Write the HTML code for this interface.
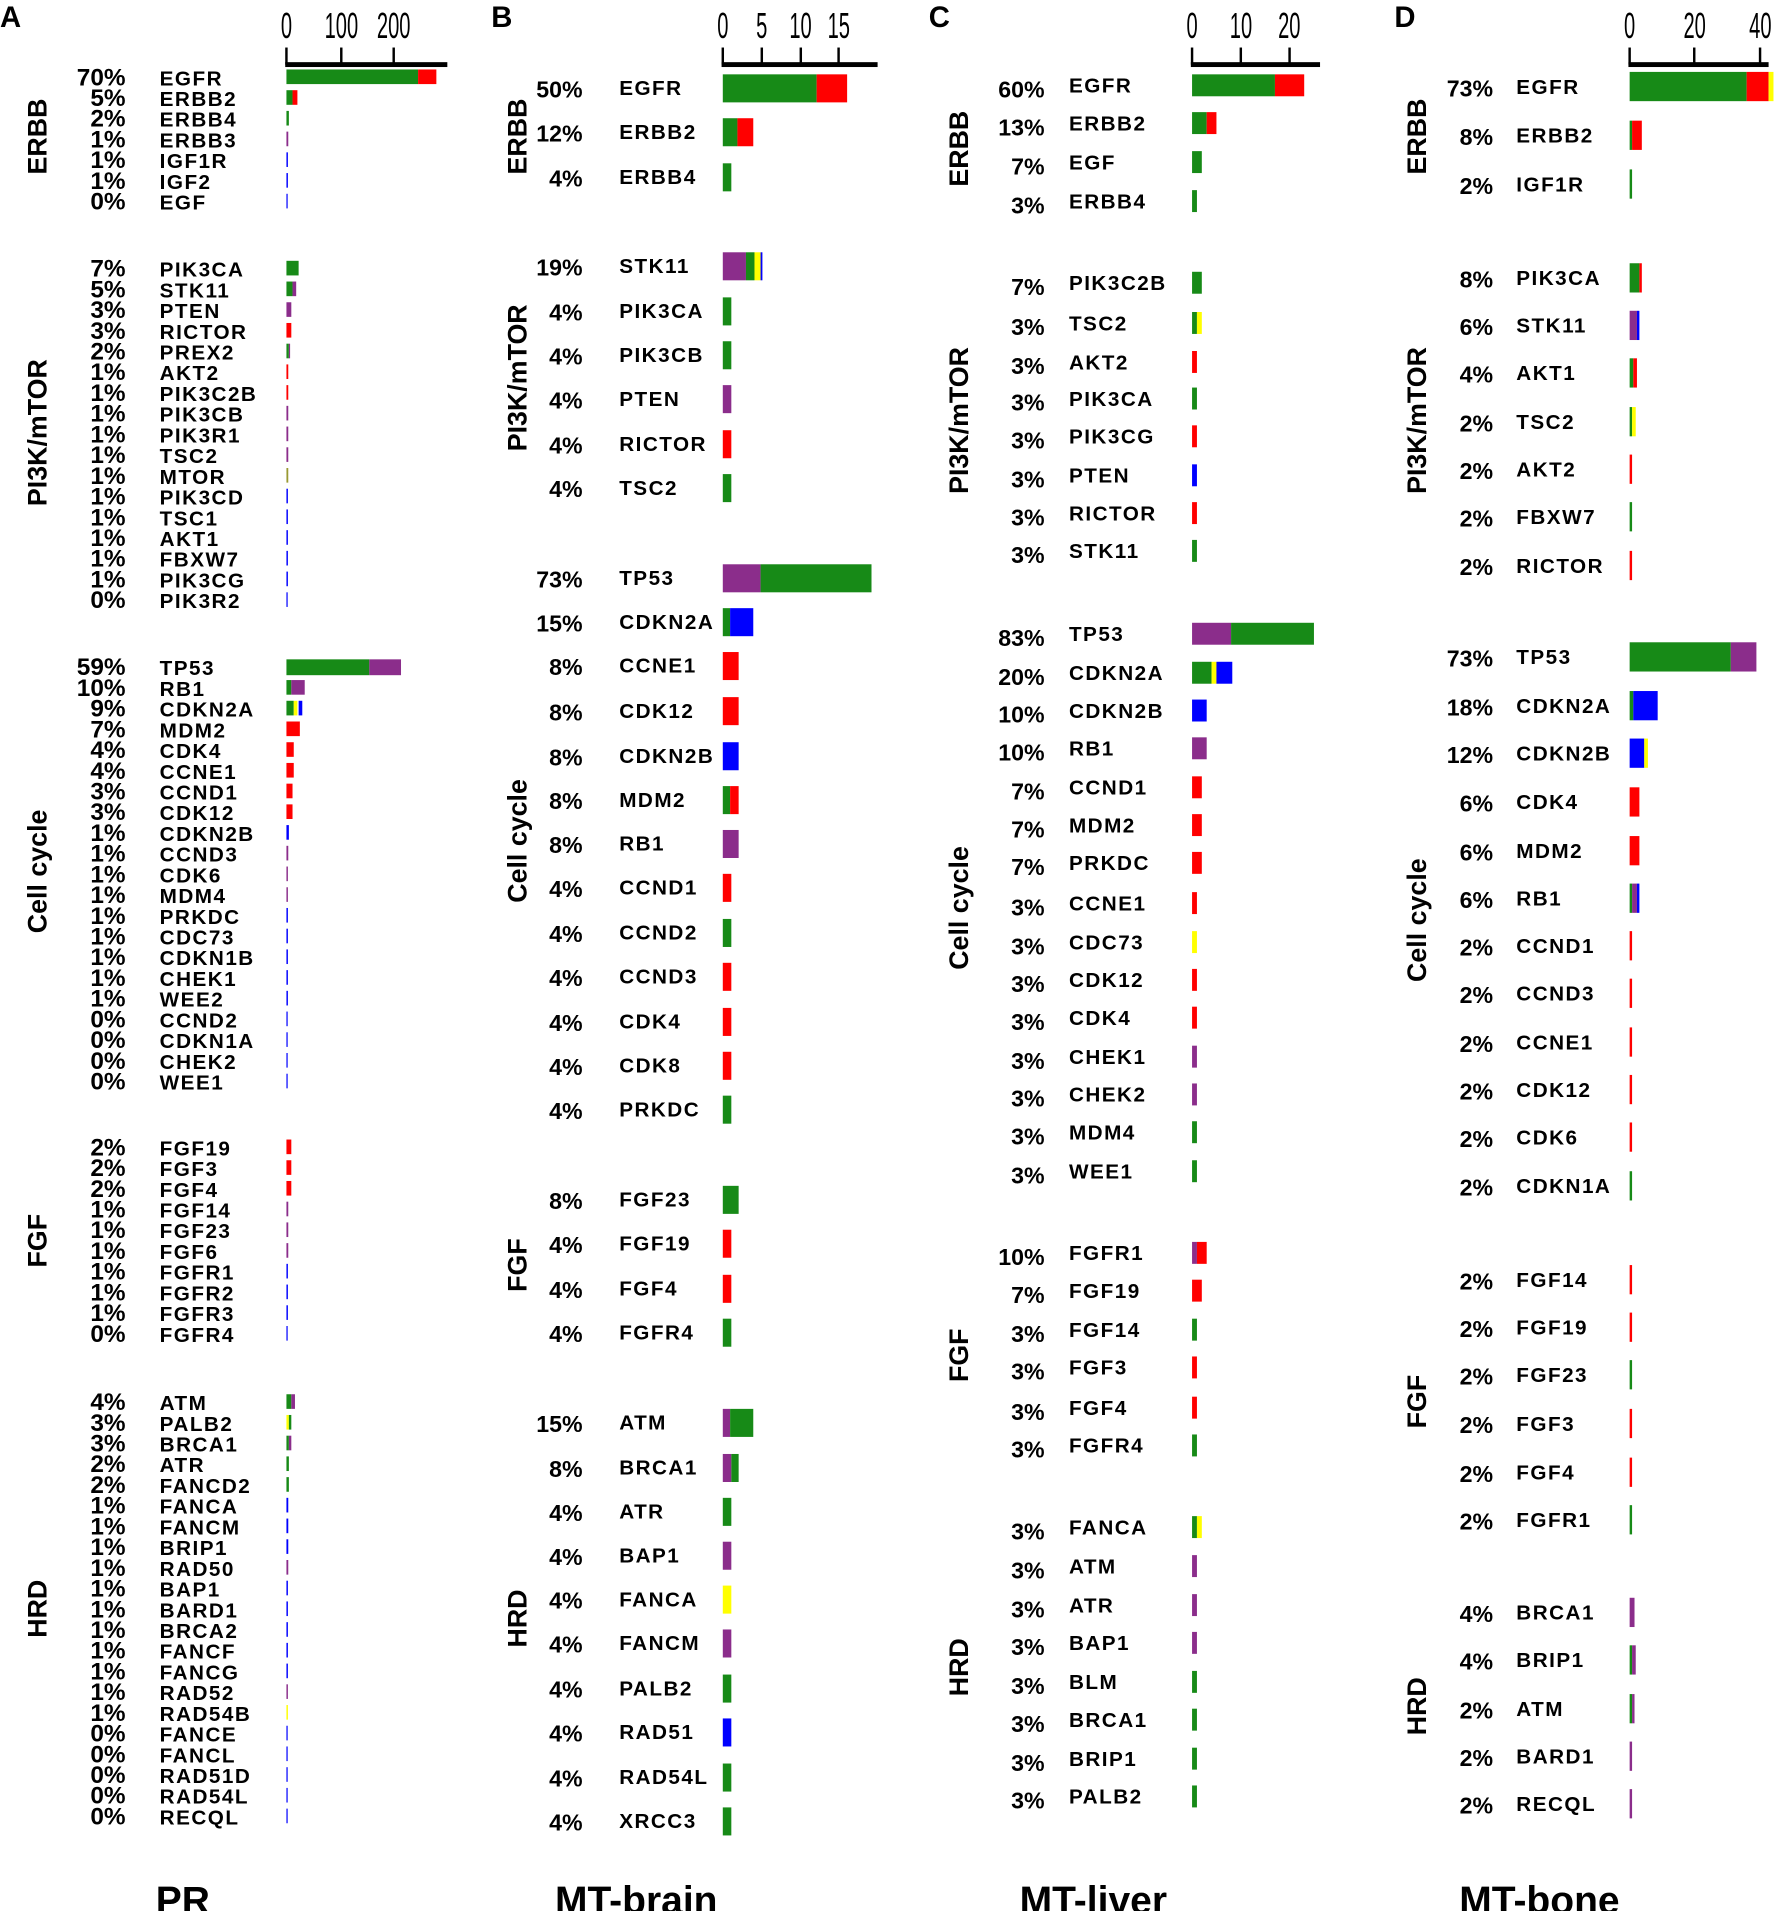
<!DOCTYPE html>
<html><head><meta charset="utf-8"><style>
html,body{margin:0;padding:0;background:#fff}
svg{display:block}
text{font-family:"Liberation Sans",Arial,sans-serif;font-weight:bold;fill:#000}
.g{font-size:17px;letter-spacing:1.2px}
.pa{font-size:20px;text-anchor:end}
.p{font-size:19px;text-anchor:end}
.t{font-family:"Liberation Sans Narrow","Liberation Sans",sans-serif;font-weight:normal;font-size:30px;text-anchor:middle}
.L{font-size:22px;text-anchor:middle}
.H{font-size:24px}
.B{font-size:32px;text-anchor:middle}
.G{fill:#178a17}.R{fill:#ff0000}.P{fill:#8b2d8b}.U{fill:#0000ff}.Y{fill:#ffff00}
</style></head><body>
<svg width="1782" height="1911" viewBox="0 0 1462 1568" preserveAspectRatio="none" xmlns="http://www.w3.org/2000/svg">
<rect width="1462" height="1568" fill="#fff"/>
<!-- Panel letters -->
<text class="H" x="0" y="22">A</text>
<text class="H" x="403" y="22">B</text>
<text class="H" x="762" y="22">C</text>
<text class="H" x="1144" y="22">D</text>

<!-- ============ PANEL A ============ -->
<g transform="translate(235,31) scale(0.55,1)"><text class="t" x="0" y="0">0</text><text class="t" x="82" y="0">100</text><text class="t" x="160" y="0">200</text></g>
<rect x="234" y="51" width="133" height="4"/>
<rect x="234" y="39" width="2" height="14"/><rect x="279" y="39" width="2" height="14"/><rect x="322" y="39" width="2" height="14"/>
<g transform="translate(38,112) rotate(-90)"><text class="L" x="0" y="0">ERBB</text></g>
<g transform="translate(38,355) rotate(-90)"><text class="L" x="0" y="0">PI3K/mTOR</text></g>
<g transform="translate(38,715) rotate(-90)"><text class="L" x="0" y="0">Cell cycle</text></g>
<g transform="translate(38,1018) rotate(-90)"><text class="L" x="0" y="0">FGF</text></g>
<g transform="translate(38,1320) rotate(-90)"><text class="L" x="0" y="0">HRD</text></g>

<text class="pa" x="103" y="70">70%</text><text class="g" x="131" y="70">EGFR</text>
<rect class="G" x="235" y="57" width="108" height="12"/><rect class="R" x="343" y="57" width="15" height="12"/>
<text class="pa" x="103" y="87">5%</text><text class="g" x="131" y="87">ERBB2</text>
<rect class="G" x="235" y="74" width="5" height="12"/><rect class="R" x="240" y="74" width="4" height="12"/>
<text class="pa" x="103" y="104">2%</text><text class="g" x="131" y="104">ERBB4</text><rect class="G" x="235" y="91" width="2" height="12"/>
<text class="pa" x="103" y="121">1%</text><text class="g" x="131" y="121">ERBB3</text><rect class="P" x="235" y="108" width="1.5" height="12"/>
<text class="pa" x="103" y="138">1%</text><text class="g" x="131" y="138">IGF1R</text><rect class="U" x="235" y="125" width="1.2" height="12"/>
<text class="pa" x="103" y="155">1%</text><text class="g" x="131" y="155">IGF2</text><rect class="U" x="235" y="142" width="1.2" height="12"/>
<text class="pa" x="103" y="172">0%</text><text class="g" x="131" y="172">EGF</text><rect class="U" x="235" y="159" width="1" height="12"/>

<text class="pa" x="103" y="227">7%</text><text class="g" x="131" y="227">PIK3CA</text><rect class="G" x="235" y="214" width="10" height="12"/>
<text class="pa" x="103" y="244">5%</text><text class="g" x="131" y="244">STK11</text><rect class="G" x="235" y="231" width="5" height="12"/><rect class="P" x="240" y="231" width="3" height="12"/>
<text class="pa" x="103" y="261">3%</text><text class="g" x="131" y="261">PTEN</text><rect class="P" x="235" y="248" width="4" height="12"/>
<text class="pa" x="103" y="278">3%</text><text class="g" x="131" y="278">RICTOR</text><rect class="R" x="235" y="265" width="4" height="12"/>
<text class="pa" x="103" y="295">2%</text><text class="g" x="131" y="295">PREX2</text><rect class="G" x="235" y="282" width="2" height="12"/><rect class="P" x="237" y="282" width="1" height="12"/>
<text class="pa" x="103" y="312">1%</text><text class="g" x="131" y="312">AKT2</text><rect class="R" x="235" y="299" width="1.5" height="12"/>
<text class="pa" x="103" y="329">1%</text><text class="g" x="131" y="329">PIK3C2B</text><rect class="R" x="235" y="316" width="1.5" height="12"/>
<text class="pa" x="103" y="346">1%</text><text class="g" x="131" y="346">PIK3CB</text><rect class="P" x="235" y="333" width="1.5" height="12"/>
<text class="pa" x="103" y="363">1%</text><text class="g" x="131" y="363">PIK3R1</text><rect class="P" x="235" y="350" width="1.5" height="12"/>
<text class="pa" x="103" y="380">1%</text><text class="g" x="131" y="380">TSC2</text><rect class="P" x="235" y="367" width="1.5" height="12"/>
<text class="pa" x="103" y="397">1%</text><text class="g" x="131" y="397">MTOR</text><rect fill="#999933" x="235" y="384" width="1.5" height="12"/>
<text class="pa" x="103" y="414">1%</text><text class="g" x="131" y="414">PIK3CD</text><rect class="U" x="235" y="401" width="1.2" height="12"/>
<text class="pa" x="103" y="431">1%</text><text class="g" x="131" y="431">TSC1</text><rect class="U" x="235" y="418" width="1.2" height="12"/>
<text class="pa" x="103" y="448">1%</text><text class="g" x="131" y="448">AKT1</text><rect class="U" x="235" y="435" width="1.2" height="12"/>
<text class="pa" x="103" y="465">1%</text><text class="g" x="131" y="465">FBXW7</text><rect class="U" x="235" y="452" width="1.2" height="12"/>
<text class="pa" x="103" y="482">1%</text><text class="g" x="131" y="482">PIK3CG</text><rect class="U" x="235" y="469" width="1.2" height="12"/>
<text class="pa" x="103" y="499">0%</text><text class="g" x="131" y="499">PIK3R2</text><rect class="U" x="235" y="486" width="1" height="12"/>

<text class="pa" x="103" y="554">59%</text><text class="g" x="131" y="554">TP53</text><rect class="G" x="235" y="541" width="68" height="13"/><rect class="P" x="303" y="541" width="26" height="13"/>
<text class="pa" x="103" y="571">10%</text><text class="g" x="131" y="571">RB1</text><rect class="G" x="235" y="558" width="4" height="12"/><rect class="P" x="239" y="558" width="11" height="12"/>
<text class="pa" x="103" y="588">9%</text><text class="g" x="131" y="588">CDKN2A</text><rect class="G" x="235" y="575" width="6" height="12"/><rect class="Y" x="241" y="575" width="3" height="12"/><rect class="U" x="245" y="575" width="3" height="12"/>
<text class="pa" x="103" y="605">7%</text><text class="g" x="131" y="605">MDM2</text><rect class="R" x="235" y="592" width="11" height="12"/>
<text class="pa" x="103" y="622">4%</text><text class="g" x="131" y="622">CDK4</text><rect class="R" x="235" y="609" width="6" height="12"/>
<text class="pa" x="103" y="639">4%</text><text class="g" x="131" y="639">CCNE1</text><rect class="R" x="235" y="626" width="6" height="12"/>
<text class="pa" x="103" y="656">3%</text><text class="g" x="131" y="656">CCND1</text><rect class="R" x="235" y="643" width="5" height="12"/>
<text class="pa" x="103" y="673">3%</text><text class="g" x="131" y="673">CDK12</text><rect class="R" x="235" y="660" width="5" height="12"/>
<text class="pa" x="103" y="690">1%</text><text class="g" x="131" y="690">CDKN2B</text><rect class="U" x="235" y="677" width="2" height="12"/>
<text class="pa" x="103" y="707">1%</text><text class="g" x="131" y="707">CCND3</text><rect class="P" x="235" y="694" width="1.5" height="12"/>
<text class="pa" x="103" y="724">1%</text><text class="g" x="131" y="724">CDK6</text><rect class="P" x="235" y="711" width="1.2" height="12"/>
<text class="pa" x="103" y="741">1%</text><text class="g" x="131" y="741">MDM4</text><rect class="P" x="235" y="728" width="1.2" height="12"/>
<text class="pa" x="103" y="758">1%</text><text class="g" x="131" y="758">PRKDC</text><rect class="U" x="235" y="745" width="1.2" height="12"/>
<text class="pa" x="103" y="775">1%</text><text class="g" x="131" y="775">CDC73</text><rect class="U" x="235" y="762" width="1.2" height="12"/>
<text class="pa" x="103" y="792">1%</text><text class="g" x="131" y="792">CDKN1B</text><rect class="U" x="235" y="779" width="1.2" height="12"/>
<text class="pa" x="103" y="809">1%</text><text class="g" x="131" y="809">CHEK1</text><rect class="U" x="235" y="796" width="1.2" height="12"/>
<text class="pa" x="103" y="826">1%</text><text class="g" x="131" y="826">WEE2</text><rect class="U" x="235" y="813" width="1.2" height="12"/>
<text class="pa" x="103" y="843">0%</text><text class="g" x="131" y="843">CCND2</text><rect class="U" x="235" y="830" width="1" height="12"/>
<text class="pa" x="103" y="860">0%</text><text class="g" x="131" y="860">CDKN1A</text><rect class="U" x="235" y="847" width="1" height="12"/>
<text class="pa" x="103" y="877">0%</text><text class="g" x="131" y="877">CHEK2</text><rect class="U" x="235" y="864" width="1" height="12"/>
<text class="pa" x="103" y="894">0%</text><text class="g" x="131" y="894">WEE1</text><rect class="U" x="235" y="881" width="1" height="12"/>

<text class="pa" x="103" y="948">2%</text><text class="g" x="131" y="948">FGF19</text><rect class="R" x="235" y="935" width="4" height="12"/>
<text class="pa" x="103" y="965">2%</text><text class="g" x="131" y="965">FGF3</text><rect class="R" x="235" y="952" width="4" height="12"/>
<text class="pa" x="103" y="982">2%</text><text class="g" x="131" y="982">FGF4</text><rect class="R" x="235" y="969" width="4" height="12"/>
<text class="pa" x="103" y="999">1%</text><text class="g" x="131" y="999">FGF14</text><rect class="P" x="235" y="986" width="1.5" height="12"/>
<text class="pa" x="103" y="1016">1%</text><text class="g" x="131" y="1016">FGF23</text><rect class="P" x="235" y="1003" width="1.5" height="12"/>
<text class="pa" x="103" y="1033">1%</text><text class="g" x="131" y="1033">FGF6</text><rect class="P" x="235" y="1020" width="1.5" height="12"/>
<text class="pa" x="103" y="1050">1%</text><text class="g" x="131" y="1050">FGFR1</text><rect class="U" x="235" y="1037" width="1.2" height="12"/>
<text class="pa" x="103" y="1067">1%</text><text class="g" x="131" y="1067">FGFR2</text><rect class="U" x="235" y="1054" width="1.2" height="12"/>
<text class="pa" x="103" y="1084">1%</text><text class="g" x="131" y="1084">FGFR3</text><rect class="U" x="235" y="1071" width="1.2" height="12"/>
<text class="pa" x="103" y="1101">0%</text><text class="g" x="131" y="1101">FGFR4</text><rect class="U" x="235" y="1088" width="1" height="12"/>

<text class="pa" x="103" y="1157">4%</text><text class="g" x="131" y="1157">ATM</text><rect class="G" x="235" y="1144" width="4" height="12"/><rect class="P" x="239" y="1144" width="3" height="12"/>
<text class="pa" x="103" y="1174">3%</text><text class="g" x="131" y="1174">PALB2</text><rect class="Y" x="235" y="1161" width="2" height="12"/><rect class="G" x="237" y="1161" width="2" height="12"/>
<text class="pa" x="103" y="1191">3%</text><text class="g" x="131" y="1191">BRCA1</text><rect class="G" x="235" y="1178" width="2" height="12"/><rect class="P" x="237" y="1178" width="2" height="12"/>
<text class="pa" x="103" y="1208">2%</text><text class="g" x="131" y="1208">ATR</text><rect class="G" x="235" y="1195" width="2" height="12"/>
<text class="pa" x="103" y="1225">2%</text><text class="g" x="131" y="1225">FANCD2</text><rect class="G" x="235" y="1212" width="2" height="12"/>
<text class="pa" x="103" y="1242">1%</text><text class="g" x="131" y="1242">FANCA</text><rect class="U" x="235" y="1229" width="1.5" height="12"/>
<text class="pa" x="103" y="1259">1%</text><text class="g" x="131" y="1259">FANCM</text><rect class="U" x="235" y="1246" width="1.5" height="12"/>
<text class="pa" x="103" y="1276">1%</text><text class="g" x="131" y="1276">BRIP1</text><rect class="U" x="235" y="1263" width="1.5" height="12"/>
<text class="pa" x="103" y="1293">1%</text><text class="g" x="131" y="1293">RAD50</text><rect class="P" x="235" y="1280" width="1.5" height="12"/>
<text class="pa" x="103" y="1310">1%</text><text class="g" x="131" y="1310">BAP1</text><rect class="U" x="235" y="1297" width="1.2" height="12"/>
<text class="pa" x="103" y="1327">1%</text><text class="g" x="131" y="1327">BARD1</text><rect class="U" x="235" y="1314" width="1.2" height="12"/>
<text class="pa" x="103" y="1344">1%</text><text class="g" x="131" y="1344">BRCA2</text><rect class="U" x="235" y="1331" width="1.2" height="12"/>
<text class="pa" x="103" y="1361">1%</text><text class="g" x="131" y="1361">FANCF</text><rect class="U" x="235" y="1348" width="1.2" height="12"/>
<text class="pa" x="103" y="1378">1%</text><text class="g" x="131" y="1378">FANCG</text><rect class="U" x="235" y="1365" width="1.2" height="12"/>
<text class="pa" x="103" y="1395">1%</text><text class="g" x="131" y="1395">RAD52</text><rect class="P" x="235" y="1382" width="1.2" height="12"/>
<text class="pa" x="103" y="1412">1%</text><text class="g" x="131" y="1412">RAD54B</text><rect class="Y" x="235" y="1399" width="1.2" height="12"/>
<text class="pa" x="103" y="1429">0%</text><text class="g" x="131" y="1429">FANCE</text><rect class="U" x="235" y="1416" width="1" height="12"/>
<text class="pa" x="103" y="1446">0%</text><text class="g" x="131" y="1446">FANCL</text><rect class="U" x="235" y="1433" width="1" height="12"/>
<text class="pa" x="103" y="1463">0%</text><text class="g" x="131" y="1463">RAD51D</text><rect class="U" x="235" y="1450" width="1" height="12"/>
<text class="pa" x="103" y="1480">0%</text><text class="g" x="131" y="1480">RAD54L</text><rect class="U" x="235" y="1467" width="1" height="12"/>
<text class="pa" x="103" y="1497">0%</text><text class="g" x="131" y="1497">RECQL</text><rect class="U" x="235" y="1484" width="1" height="12"/>
<text class="B" x="150" y="1570">PR</text>

<!-- ============ PANEL B ============ -->
<g transform="translate(593,31) scale(0.55,1)"><text class="t" x="0" y="0">0</text><text class="t" x="58" y="0">5</text><text class="t" x="116" y="0">10</text><text class="t" x="173" y="0">15</text></g>
<rect x="592" y="51" width="128" height="4"/>
<rect x="592" y="39" width="2" height="14"/><rect x="624" y="39" width="2" height="14"/><rect x="656" y="39" width="2" height="14"/><rect x="687" y="39" width="2" height="14"/>
<g transform="translate(432,112) rotate(-90)"><text class="L" x="0" y="0">ERBB</text></g>
<g transform="translate(432,310) rotate(-90)"><text class="L" x="0" y="0">PI3K/mTOR</text></g>
<g transform="translate(432,690) rotate(-90)"><text class="L" x="0" y="0">Cell cycle</text></g>
<g transform="translate(432,1038) rotate(-90)"><text class="L" x="0" y="0">FGF</text></g>
<g transform="translate(432,1328) rotate(-90)"><text class="L" x="0" y="0">HRD</text></g>

<text class="p" x="478" y="80">50%</text><text class="g" x="508" y="78">EGFR</text><rect class="G" x="593" y="61" width="77" height="23"/><rect class="R" x="670" y="61" width="25" height="23"/>
<text class="p" x="478" y="116">12%</text><text class="g" x="508" y="114">ERBB2</text><rect class="G" x="593" y="97" width="12" height="23"/><rect class="R" x="605" y="97" width="13" height="23"/>
<text class="p" x="478" y="153">4%</text><text class="g" x="508" y="151">ERBB4</text><rect class="G" x="593" y="134" width="7" height="23"/>

<text class="p" x="478" y="226">19%</text><text class="g" x="508" y="224">STK11</text><rect class="P" x="593" y="207" width="19" height="23"/><rect class="G" x="612" y="207" width="7" height="23"/><rect class="Y" x="619" y="207" width="5" height="23"/><rect class="U" x="624" y="207" width="1.5" height="23"/>
<text class="p" x="478" y="263">4%</text><text class="g" x="508" y="261">PIK3CA</text><rect class="G" x="593" y="244" width="7" height="23"/>
<text class="p" x="478" y="299">4%</text><text class="g" x="508" y="297">PIK3CB</text><rect class="G" x="593" y="280" width="7" height="23"/>
<text class="p" x="478" y="335">4%</text><text class="g" x="508" y="333">PTEN</text><rect class="P" x="593" y="316" width="7" height="23"/>
<text class="p" x="478" y="372">4%</text><text class="g" x="508" y="370">RICTOR</text><rect class="R" x="593" y="353" width="7" height="23"/>
<text class="p" x="478" y="408">4%</text><text class="g" x="508" y="406">TSC2</text><rect class="G" x="593" y="389" width="7" height="23"/>

<text class="p" x="478" y="482">73%</text><text class="g" x="508" y="480">TP53</text><rect class="P" x="593" y="463" width="31" height="23"/><rect class="G" x="624" y="463" width="91" height="23"/>
<text class="p" x="478" y="518">15%</text><text class="g" x="508" y="516">CDKN2A</text><rect class="G" x="593" y="499" width="6" height="23"/><rect class="U" x="599" y="499" width="19" height="23"/>
<text class="p" x="478" y="554">8%</text><text class="g" x="508" y="552">CCNE1</text><rect class="R" x="593" y="535" width="13" height="23"/>
<text class="p" x="478" y="591">8%</text><text class="g" x="508" y="589">CDK12</text><rect class="R" x="593" y="572" width="13" height="23"/>
<text class="p" x="478" y="628">8%</text><text class="g" x="508" y="626">CDKN2B</text><rect class="U" x="593" y="609" width="13" height="23"/>
<text class="p" x="478" y="664">8%</text><text class="g" x="508" y="662">MDM2</text><rect class="G" x="593" y="645" width="6" height="23"/><rect class="R" x="599" y="645" width="7" height="23"/>
<text class="p" x="478" y="700">8%</text><text class="g" x="508" y="698">RB1</text><rect class="P" x="593" y="681" width="13" height="23"/>
<text class="p" x="478" y="736">4%</text><text class="g" x="508" y="734">CCND1</text><rect class="R" x="593" y="717" width="7" height="23"/>
<text class="p" x="478" y="773">4%</text><text class="g" x="508" y="771">CCND2</text><rect class="G" x="593" y="754" width="7" height="23"/>
<text class="p" x="478" y="809">4%</text><text class="g" x="508" y="807">CCND3</text><rect class="R" x="593" y="790" width="7" height="23"/>
<text class="p" x="478" y="846">4%</text><text class="g" x="508" y="844">CDK4</text><rect class="R" x="593" y="827" width="7" height="23"/>
<text class="p" x="478" y="882">4%</text><text class="g" x="508" y="880">CDK8</text><rect class="R" x="593" y="863" width="7" height="23"/>
<text class="p" x="478" y="918">4%</text><text class="g" x="508" y="916">PRKDC</text><rect class="G" x="593" y="899" width="7" height="23"/>

<text class="p" x="478" y="992">8%</text><text class="g" x="508" y="990">FGF23</text><rect class="G" x="593" y="973" width="13" height="23"/>
<text class="p" x="478" y="1028">4%</text><text class="g" x="508" y="1026">FGF19</text><rect class="R" x="593" y="1009" width="7" height="23"/>
<text class="p" x="478" y="1065">4%</text><text class="g" x="508" y="1063">FGF4</text><rect class="R" x="593" y="1046" width="7" height="23"/>
<text class="p" x="478" y="1101">4%</text><text class="g" x="508" y="1099">FGFR4</text><rect class="G" x="593" y="1082" width="7" height="23"/>

<text class="p" x="478" y="1175">15%</text><text class="g" x="508" y="1173">ATM</text><rect class="P" x="593" y="1156" width="6" height="23"/><rect class="G" x="599" y="1156" width="19" height="23"/>
<text class="p" x="478" y="1212">8%</text><text class="g" x="508" y="1210">BRCA1</text><rect class="P" x="593" y="1193" width="7" height="23"/><rect class="G" x="600" y="1193" width="6" height="23"/>
<text class="p" x="478" y="1248">4%</text><text class="g" x="508" y="1246">ATR</text><rect class="G" x="593" y="1229" width="7" height="23"/>
<text class="p" x="478" y="1284">4%</text><text class="g" x="508" y="1282">BAP1</text><rect class="P" x="593" y="1265" width="7" height="23"/>
<text class="p" x="478" y="1320">4%</text><text class="g" x="508" y="1318">FANCA</text><rect class="Y" x="593" y="1301" width="7" height="23"/>
<text class="p" x="478" y="1356">4%</text><text class="g" x="508" y="1354">FANCM</text><rect class="P" x="593" y="1337" width="7" height="23"/>
<text class="p" x="478" y="1393">4%</text><text class="g" x="508" y="1391">PALB2</text><rect class="G" x="593" y="1374" width="7" height="23"/>
<text class="p" x="478" y="1429">4%</text><text class="g" x="508" y="1427">RAD51</text><rect class="U" x="593" y="1410" width="7" height="23"/>
<text class="p" x="478" y="1466">4%</text><text class="g" x="508" y="1464">RAD54L</text><rect class="G" x="593" y="1447" width="7" height="23"/>
<text class="p" x="478" y="1502">4%</text><text class="g" x="508" y="1500">XRCC3</text><rect class="G" x="593" y="1483" width="7" height="23"/>
<text class="B" x="522" y="1570">MT-brain</text>

<!-- ============ PANEL C ============ -->
<g transform="translate(978,31) scale(0.55,1)"><text class="t" x="0" y="0">0</text><text class="t" x="73" y="0">10</text><text class="t" x="145" y="0">20</text></g>
<rect x="977" y="51" width="106" height="4"/>
<rect x="977" y="39" width="2" height="14"/><rect x="1017" y="39" width="2" height="14"/><rect x="1057" y="39" width="2" height="14"/>
<g transform="translate(794,122) rotate(-90)"><text class="L" x="0" y="0">ERBB</text></g>
<g transform="translate(794,345) rotate(-90)"><text class="L" x="0" y="0">PI3K/mTOR</text></g>
<g transform="translate(794,745) rotate(-90)"><text class="L" x="0" y="0">Cell cycle</text></g>
<g transform="translate(794,1112) rotate(-90)"><text class="L" x="0" y="0">FGF</text></g>
<g transform="translate(794,1368) rotate(-90)"><text class="L" x="0" y="0">HRD</text></g>

<text class="p" x="857" y="80">60%</text><text class="g" x="877" y="76">EGFR</text><rect class="G" x="978" y="61" width="68" height="18"/><rect class="R" x="1046" y="61" width="24" height="18"/>
<text class="p" x="857" y="111">13%</text><text class="g" x="877" y="107">ERBB2</text><rect class="G" x="978" y="92" width="12" height="18"/><rect class="R" x="990" y="92" width="8" height="18"/>
<text class="p" x="857" y="143">7%</text><text class="g" x="877" y="139">EGF</text><rect class="G" x="978" y="124" width="8" height="18"/>
<text class="p" x="857" y="175">3%</text><text class="g" x="877" y="171">ERBB4</text><rect class="G" x="978" y="156" width="4" height="18"/>

<text class="p" x="857" y="242">7%</text><text class="g" x="877" y="238">PIK3C2B</text><rect class="G" x="978" y="223" width="8" height="18"/>
<text class="p" x="857" y="275">3%</text><text class="g" x="877" y="271">TSC2</text><rect class="G" x="978" y="256" width="4" height="18"/><rect class="Y" x="982" y="256" width="4" height="18"/>
<text class="p" x="857" y="307">3%</text><text class="g" x="877" y="303">AKT2</text><rect class="R" x="978" y="288" width="4" height="18"/>
<text class="p" x="857" y="337">3%</text><text class="g" x="877" y="333">PIK3CA</text><rect class="G" x="978" y="318" width="4" height="18"/>
<text class="p" x="857" y="368">3%</text><text class="g" x="877" y="364">PIK3CG</text><rect class="R" x="978" y="349" width="4" height="18"/>
<text class="p" x="857" y="400">3%</text><text class="g" x="877" y="396">PTEN</text><rect class="U" x="978" y="381" width="4" height="18"/>
<text class="p" x="857" y="431">3%</text><text class="g" x="877" y="427">RICTOR</text><rect class="R" x="978" y="412" width="4" height="18"/>
<text class="p" x="857" y="462">3%</text><text class="g" x="877" y="458">STK11</text><rect class="G" x="978" y="443" width="4" height="18"/>

<text class="p" x="857" y="530">83%</text><text class="g" x="877" y="526">TP53</text><rect class="P" x="978" y="511" width="32" height="18"/><rect class="G" x="1010" y="511" width="68" height="18"/>
<text class="p" x="857" y="562">20%</text><text class="g" x="877" y="558">CDKN2A</text><rect class="G" x="978" y="543" width="16" height="18"/><rect class="Y" x="994" y="543" width="4" height="18"/><rect class="U" x="998" y="543" width="13" height="18"/>
<text class="p" x="857" y="593">10%</text><text class="g" x="877" y="589">CDKN2B</text><rect class="U" x="978" y="574" width="12" height="18"/>
<text class="p" x="857" y="624">10%</text><text class="g" x="877" y="620">RB1</text><rect class="P" x="978" y="605" width="12" height="18"/>
<text class="p" x="857" y="656">7%</text><text class="g" x="877" y="652">CCND1</text><rect class="R" x="978" y="637" width="8" height="18"/>
<text class="p" x="857" y="687">7%</text><text class="g" x="877" y="683">MDM2</text><rect class="R" x="978" y="668" width="8" height="18"/>
<text class="p" x="857" y="718">7%</text><text class="g" x="877" y="714">PRKDC</text><rect class="R" x="978" y="699" width="8" height="18"/>
<text class="p" x="857" y="751">3%</text><text class="g" x="877" y="747">CCNE1</text><rect class="R" x="978" y="732" width="4" height="18"/>
<text class="p" x="857" y="783">3%</text><text class="g" x="877" y="779">CDC73</text><rect class="Y" x="978" y="764" width="4" height="18"/>
<text class="p" x="857" y="814">3%</text><text class="g" x="877" y="810">CDK12</text><rect class="R" x="978" y="795" width="4" height="18"/>
<text class="p" x="857" y="845">3%</text><text class="g" x="877" y="841">CDK4</text><rect class="R" x="978" y="826" width="4" height="18"/>
<text class="p" x="857" y="877">3%</text><text class="g" x="877" y="873">CHEK1</text><rect class="P" x="978" y="858" width="4" height="18"/>
<text class="p" x="857" y="908">3%</text><text class="g" x="877" y="904">CHEK2</text><rect class="P" x="978" y="889" width="4" height="18"/>
<text class="p" x="857" y="939">3%</text><text class="g" x="877" y="935">MDM4</text><rect class="G" x="978" y="920" width="4" height="18"/>
<text class="p" x="857" y="971">3%</text><text class="g" x="877" y="967">WEE1</text><rect class="G" x="978" y="952" width="4" height="18"/>

<text class="p" x="857" y="1038">10%</text><text class="g" x="877" y="1034">FGFR1</text><rect class="P" x="978" y="1019" width="4" height="18"/><rect class="R" x="982" y="1019" width="8" height="18"/>
<text class="p" x="857" y="1069">7%</text><text class="g" x="877" y="1065">FGF19</text><rect class="R" x="978" y="1050" width="8" height="18"/>
<text class="p" x="857" y="1101">3%</text><text class="g" x="877" y="1097">FGF14</text><rect class="G" x="978" y="1082" width="4" height="18"/>
<text class="p" x="857" y="1132">3%</text><text class="g" x="877" y="1128">FGF3</text><rect class="R" x="978" y="1113" width="4" height="18"/>
<text class="p" x="857" y="1165">3%</text><text class="g" x="877" y="1161">FGF4</text><rect class="R" x="978" y="1146" width="4" height="18"/>
<text class="p" x="857" y="1196">3%</text><text class="g" x="877" y="1192">FGFR4</text><rect class="G" x="978" y="1177" width="4" height="18"/>

<text class="p" x="857" y="1263">3%</text><text class="g" x="877" y="1259">FANCA</text><rect class="G" x="978" y="1244" width="4" height="18"/><rect class="Y" x="982" y="1244" width="4" height="18"/>
<text class="p" x="857" y="1295">3%</text><text class="g" x="877" y="1291">ATM</text><rect class="P" x="978" y="1276" width="4" height="18"/>
<text class="p" x="857" y="1327">3%</text><text class="g" x="877" y="1323">ATR</text><rect class="P" x="978" y="1308" width="4" height="18"/>
<text class="p" x="857" y="1358">3%</text><text class="g" x="877" y="1354">BAP1</text><rect class="P" x="978" y="1339" width="4" height="18"/>
<text class="p" x="857" y="1390">3%</text><text class="g" x="877" y="1386">BLM</text><rect class="G" x="978" y="1371" width="4" height="18"/>
<text class="p" x="857" y="1421">3%</text><text class="g" x="877" y="1417">BRCA1</text><rect class="G" x="978" y="1402" width="4" height="18"/>
<text class="p" x="857" y="1453">3%</text><text class="g" x="877" y="1449">BRIP1</text><rect class="G" x="978" y="1434" width="4" height="18"/>
<text class="p" x="857" y="1484">3%</text><text class="g" x="877" y="1480">PALB2</text><rect class="G" x="978" y="1465" width="4" height="18"/>
<text class="B" x="897" y="1570">MT-liver</text>

<!-- ============ PANEL D ============ -->
<g transform="translate(1337,31) scale(0.55,1)"><text class="t" x="0" y="0">0</text><text class="t" x="97" y="0">20</text><text class="t" x="195" y="0">40</text></g>
<rect x="1336" y="51" width="115" height="4"/>
<rect x="1336" y="39" width="2" height="14"/><rect x="1389" y="39" width="2" height="14"/><rect x="1443" y="39" width="2" height="14"/>
<g transform="translate(1170,112) rotate(-90)"><text class="L" x="0" y="0">ERBB</text></g>
<g transform="translate(1170,345) rotate(-90)"><text class="L" x="0" y="0">PI3K/mTOR</text></g>
<g transform="translate(1170,755) rotate(-90)"><text class="L" x="0" y="0">Cell cycle</text></g>
<g transform="translate(1170,1150) rotate(-90)"><text class="L" x="0" y="0">FGF</text></g>
<g transform="translate(1170,1400) rotate(-90)"><text class="L" x="0" y="0">HRD</text></g>

<text class="p" x="1225" y="79">73%</text><text class="g" x="1244" y="77">EGFR</text><rect class="G" x="1337" y="59" width="96" height="24"/><rect class="R" x="1433" y="59" width="18" height="24"/><rect class="Y" x="1451" y="59" width="4" height="24"/>
<text class="p" x="1225" y="119">8%</text><text class="g" x="1244" y="117">ERBB2</text><rect class="G" x="1337" y="99" width="2" height="24"/><rect class="R" x="1339" y="99" width="8" height="24"/>
<text class="p" x="1225" y="159">2%</text><text class="g" x="1244" y="157">IGF1R</text><rect class="G" x="1337" y="139" width="2" height="24"/>

<text class="p" x="1225" y="236">8%</text><text class="g" x="1244" y="234">PIK3CA</text><rect class="G" x="1337" y="216" width="8" height="24"/><rect class="R" x="1345" y="216" width="2" height="24"/>
<text class="p" x="1225" y="275">6%</text><text class="g" x="1244" y="273">STK11</text><rect class="P" x="1337" y="255" width="6" height="24"/><rect class="U" x="1343" y="255" width="2" height="24"/>
<text class="p" x="1225" y="314">4%</text><text class="g" x="1244" y="312">AKT1</text><rect class="G" x="1337" y="294" width="3" height="24"/><rect class="R" x="1340" y="294" width="3" height="24"/>
<text class="p" x="1225" y="354">2%</text><text class="g" x="1244" y="352">TSC2</text><rect class="G" x="1337" y="334" width="2" height="24"/><rect class="Y" x="1339" y="334" width="3" height="24"/>
<text class="p" x="1225" y="393">2%</text><text class="g" x="1244" y="391">AKT2</text><rect class="R" x="1337" y="373" width="2" height="24"/>
<text class="p" x="1225" y="432">2%</text><text class="g" x="1244" y="430">FBXW7</text><rect class="G" x="1337" y="412" width="2" height="24"/>
<text class="p" x="1225" y="472">2%</text><text class="g" x="1244" y="470">RICTOR</text><rect class="R" x="1337" y="452" width="2" height="24"/>

<text class="p" x="1225" y="547">73%</text><text class="g" x="1244" y="545">TP53</text><rect class="G" x="1337" y="527" width="83" height="24"/><rect class="P" x="1420" y="527" width="21" height="24"/>
<text class="p" x="1225" y="587">18%</text><text class="g" x="1244" y="585">CDKN2A</text><rect class="G" x="1337" y="567" width="3" height="24"/><rect class="U" x="1340" y="567" width="20" height="24"/>
<text class="p" x="1225" y="626">12%</text><text class="g" x="1244" y="624">CDKN2B</text><rect class="U" x="1337" y="606" width="12" height="24"/><rect class="Y" x="1349" y="606" width="3" height="24"/>
<text class="p" x="1225" y="666">6%</text><text class="g" x="1244" y="664">CDK4</text><rect class="R" x="1337" y="646" width="8" height="24"/>
<text class="p" x="1225" y="706">6%</text><text class="g" x="1244" y="704">MDM2</text><rect class="R" x="1337" y="686" width="8" height="24"/>
<text class="p" x="1225" y="745">6%</text><text class="g" x="1244" y="743">RB1</text><rect class="G" x="1337" y="725" width="2" height="24"/><rect class="P" x="1339" y="725" width="4" height="24"/><rect class="U" x="1343" y="725" width="2" height="24"/>
<text class="p" x="1225" y="784">2%</text><text class="g" x="1244" y="782">CCND1</text><rect class="R" x="1337" y="764" width="2" height="24"/>
<text class="p" x="1225" y="823">2%</text><text class="g" x="1244" y="821">CCND3</text><rect class="R" x="1337" y="803" width="2" height="24"/>
<text class="p" x="1225" y="863">2%</text><text class="g" x="1244" y="861">CCNE1</text><rect class="R" x="1337" y="843" width="2" height="24"/>
<text class="p" x="1225" y="902">2%</text><text class="g" x="1244" y="900">CDK12</text><rect class="R" x="1337" y="882" width="2" height="24"/>
<text class="p" x="1225" y="941">2%</text><text class="g" x="1244" y="939">CDK6</text><rect class="R" x="1337" y="921" width="2" height="24"/>
<text class="p" x="1225" y="981">2%</text><text class="g" x="1244" y="979">CDKN1A</text><rect class="G" x="1337" y="961" width="2" height="24"/>

<text class="p" x="1225" y="1058">2%</text><text class="g" x="1244" y="1056">FGF14</text><rect class="R" x="1337" y="1038" width="2" height="24"/>
<text class="p" x="1225" y="1097">2%</text><text class="g" x="1244" y="1095">FGF19</text><rect class="R" x="1337" y="1077" width="2" height="24"/>
<text class="p" x="1225" y="1136">2%</text><text class="g" x="1244" y="1134">FGF23</text><rect class="G" x="1337" y="1116" width="2" height="24"/>
<text class="p" x="1225" y="1176">2%</text><text class="g" x="1244" y="1174">FGF3</text><rect class="R" x="1337" y="1156" width="2" height="24"/>
<text class="p" x="1225" y="1216">2%</text><text class="g" x="1244" y="1214">FGF4</text><rect class="R" x="1337" y="1196" width="2" height="24"/>
<text class="p" x="1225" y="1255">2%</text><text class="g" x="1244" y="1253">FGFR1</text><rect class="G" x="1337" y="1235" width="2" height="24"/>

<text class="p" x="1225" y="1331">4%</text><text class="g" x="1244" y="1329">BRCA1</text><rect class="P" x="1337" y="1311" width="4" height="24"/>
<text class="p" x="1225" y="1370">4%</text><text class="g" x="1244" y="1368">BRIP1</text><rect class="G" x="1337" y="1350" width="2" height="24"/><rect class="P" x="1339" y="1350" width="3" height="24"/>
<text class="p" x="1225" y="1410">2%</text><text class="g" x="1244" y="1408">ATM</text><rect class="G" x="1337" y="1390" width="2" height="24"/><rect class="P" x="1339" y="1390" width="2" height="24"/>
<text class="p" x="1225" y="1449">2%</text><text class="g" x="1244" y="1447">BARD1</text><rect class="P" x="1337" y="1429" width="2" height="24"/>
<text class="p" x="1225" y="1488">2%</text><text class="g" x="1244" y="1486">RECQL</text><rect class="P" x="1337" y="1468" width="2" height="24"/>
<text class="B" x="1263" y="1570">MT-bone</text>
</svg>
</body></html>
